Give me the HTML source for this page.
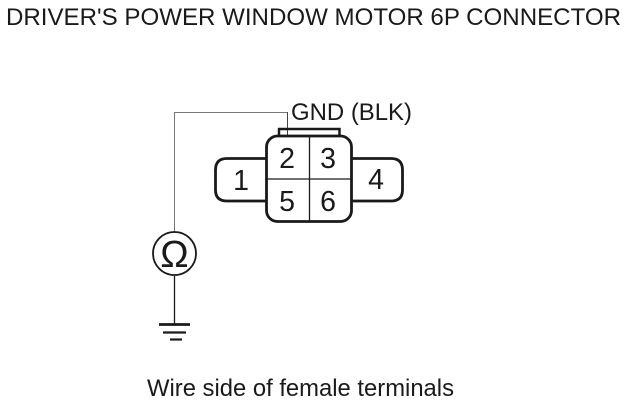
<!DOCTYPE html>
<html><head><meta charset="utf-8"><style>html,body{margin:0;padding:0;background:#fff}svg{display:block}text{font-family:"Liberation Sans",sans-serif;fill:#1a1a1a}</style></head><body>
<svg width="630" height="406" viewBox="0 0 630 406" xmlns="http://www.w3.org/2000/svg">
<text x="6" y="25" font-size="23.7" textLength="615" lengthAdjust="spacingAndGlyphs">DRIVER'S POWER WINDOW MOTOR 6P CONNECTOR</text>
<text x="291" y="120" font-size="23.7" textLength="121" lengthAdjust="spacingAndGlyphs">GND (BLK)</text>
<text x="147" y="396" font-size="23.700" textLength="307" lengthAdjust="spacingAndGlyphs">Wire side of female terminals</text>
<g fill="none" stroke="#1a1a1a">
<path d="M174.500 232V112.500H287" stroke="#777" stroke-width="1"/>
<path d="M287.500 112V136" stroke="#444" stroke-width="1"/>
<path d="M279 135V129H339.500V135" stroke-width="2.500"/>
<rect x="266.500" y="136" width="85" height="85.500" rx="11" stroke-width="2.800"/>
<path d="M266 158.500H227Q215.500 158.500 215.500 170V190Q215.500 201 227 201H266M351 158.500H391Q402.500 158.500 402.500 170V190Q402.500 201 391 201H351" stroke-width="2.800"/>
<path d="M309.500 136V221M266 179H351" stroke-width="1.300"/>
<path d="M174.500 276V325" stroke-width="1.300"/>
<circle cx="174.500" cy="253.500" r="21.500" stroke-width="1.800"/>
<path d="M159 324.500H190" stroke-width="2.800"/><path d="M163 332.500H186" stroke-width="2.200"/><path d="M170 339.500H182" stroke-width="2.200"/>
</g>
<g font-size="28.500" text-anchor="middle">
<text x="241" y="190">1</text><text x="287" y="168">2</text><text x="328" y="168">3</text><text x="376" y="189">4</text><text x="287" y="211">5</text><text x="328" y="211">6</text>
</g>
<text x="174.500" y="267" font-size="38" text-anchor="middle">Ω</text>
</svg>
</body></html>
